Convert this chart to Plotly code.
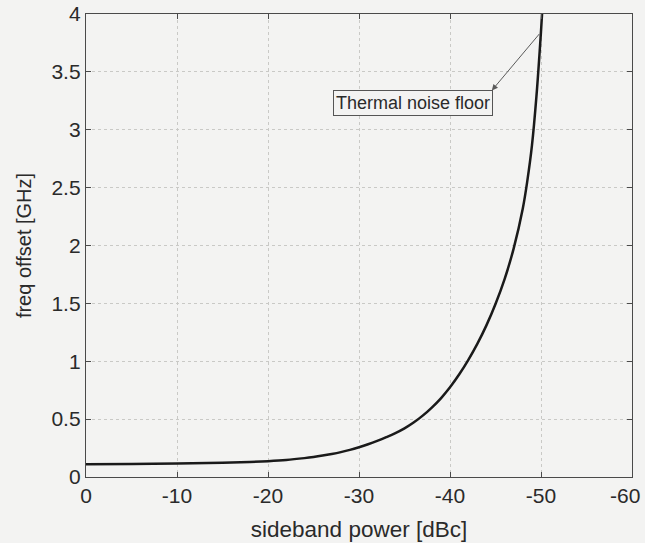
import plotly.graph_objects as go

# Sideband power (dBc) vs. frequency offset (GHz)
sideband_dbc = [0, -5, -10, -15, -18, -20, -22, -24, -25, -26, -27, -28, -29,
                -30, -31, -32, -33, -34, -35, -36, -37, -38, -39, -40, -41,
                -42, -43, -44, -45, -46, -47, -48, -48.5, -49, -49.5, -50,
                -50.2]
freq_offset_ghz = [0.11, 0.112, 0.116, 0.123, 0.13, 0.137, 0.147, 0.163,
                   0.173, 0.185, 0.199, 0.215, 0.234, 0.257, 0.283, 0.312,
                   0.344, 0.379, 0.42, 0.47, 0.53, 0.60, 0.68, 0.775,
                   0.885, 1.01, 1.15, 1.31, 1.495, 1.71, 1.975, 2.32,
                   2.56, 2.86, 3.29, 3.85, 4.11]

x_ticks = [0, -10, -20, -30, -40, -50, -60]
x_tick_text = ["0", "-10", "-20", "-30", "-40", "-50", "-60"]
y_ticks = [0, 0.5, 1, 1.5, 2, 2.5, 3, 3.5, 4]
y_tick_text = ["0", "0.5", "1", "1.5", "2", "2.5", "3", "3.5", "4"]

# Annotation: curve point and label position
note_text = "Thermal noise floor"
note_point = (-49.95, 3.84)
note_head = (-44.6, 3.34)
note_label = (-35.95, 3.235)

font_family = "Liberation Sans, Arial, Helvetica, sans-serif"
bg = "#f3f3f2"
axis_col = "#4a4a4a"
text_col = "#2a2a2a"
tick_font = dict(family=font_family, size=21, color=text_col)

fig = go.Figure()
fig.add_trace(go.Scatter(
    x=sideband_dbc, y=freq_offset_ghz, mode="lines",
    line=dict(color="#1a1a1a", width=2.5, shape="spline", smoothing=1.0),
    showlegend=False, hoverinfo="skip",
))

axis_common = dict(
    showline=True, linecolor=axis_col, linewidth=1.3, mirror="ticks",
    ticks="inside", ticklen=5, tickcolor=axis_col, tickwidth=1,
    showgrid=True, gridcolor="#c9c9c6", gridwidth=1, griddash="dot",
    zeroline=False, automargin=False, tickfont=tick_font,
)

# The rightmost x label is drawn separately (right-aligned) so it stays on the page
fig.update_xaxes(
    range=[0, -60], tickvals=x_ticks, ticktext=x_tick_text[:-1] + [""],
    title=dict(text="sideband power [dBc]", standoff=14,
               font=dict(family=font_family, size=22.5, color=text_col)),
    **axis_common,
)
fig.update_yaxes(
    range=[0, 4], tickvals=y_ticks, ticktext=y_tick_text,
    title=dict(text="freq offset [GHz]", standoff=14,
               font=dict(family=font_family, size=20, color=text_col)),
    **axis_common,
)
fig.add_annotation(
    x=x_ticks[-1], y=0, xref="x", yref="y",
    text=x_tick_text[-1], showarrow=False, font=tick_font,
    xanchor="right", yanchor="middle", xshift=10, yshift=-18,
)

# Arrow from the curve down to the label box
fig.add_annotation(
    x=note_head[0], y=note_head[1], ax=note_point[0], ay=note_point[1],
    axref="x", ayref="y", xref="x", yref="y",
    text="", showarrow=True, arrowhead=2, arrowsize=1.2, arrowwidth=1,
    arrowcolor="#5a5a5a", standoff=0, startstandoff=0,
)
fig.add_annotation(
    x=note_label[0], y=note_label[1], xref="x", yref="y",
    text=note_text, showarrow=False,
    font=dict(family=font_family, size=18, color=text_col),
    bordercolor="#555555", borderwidth=1, borderpad=2, bgcolor=bg,
)

fig.update_layout(
    width=645, height=543,
    margin=dict(l=86, r=13, t=14, b=66, autoexpand=False),
    paper_bgcolor=bg, plot_bgcolor=bg,
)

fig.write_html("out.html")
